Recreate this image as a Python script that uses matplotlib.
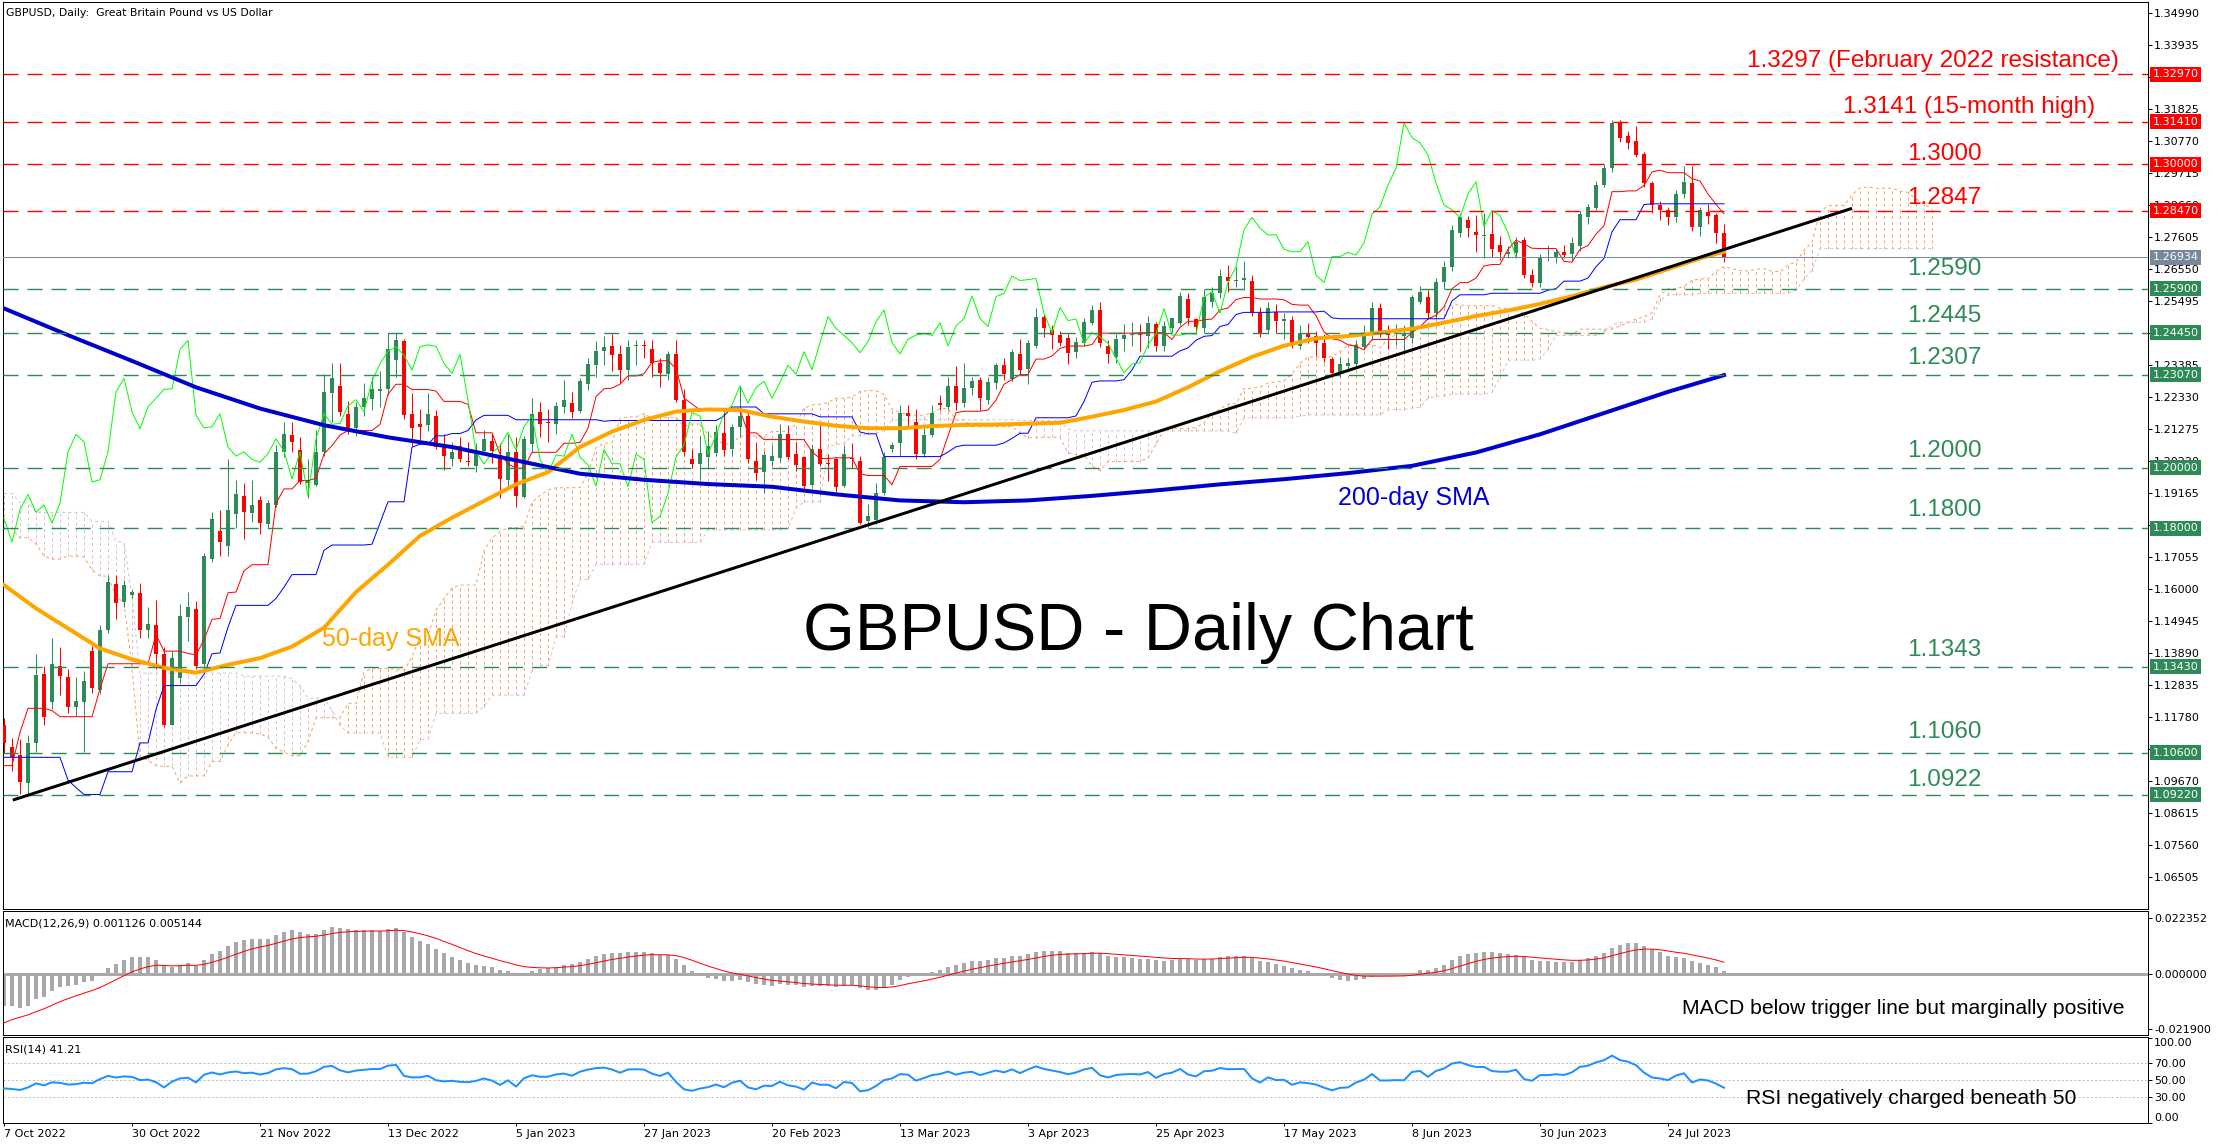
import numpy as np
import matplotlib
matplotlib.use("Agg")
import matplotlib.pyplot as plt
from matplotlib.transforms import blended_transform_factory

plt.rcParams['font.family'] = ['DejaVu Sans']
plt.rcParams['lines.scale_dashes'] = False

# ---------------- DATA (daily GBPUSD bars, 7 Oct 2022 .. 2 Aug 2023) ----------------
opens = [
1.1152, 1.1080, 1.1053, 1.0959, 1.1093, 1.1320, 1.1229, 1.1346, 1.1309, 1.1212,
1.1229, 1.1397, 1.1267, 1.1465, 1.1616, 1.1557, 1.1580, 1.1588, 1.1465, 1.1481,
1.1386, 1.1152, 1.1306, 1.1508, 1.1533, 1.1353, 1.1700, 1.1791, 1.1741, 1.1848,
1.1905, 1.1850, 1.1892, 1.1813, 1.1877, 1.2052, 1.2107, 1.2058, 1.1950, 1.1942,
1.2052, 1.2245, 1.2269, 1.2176, 1.2130, 1.2199, 1.2228, 1.2254, 1.2258, 1.2355,
1.2418, 1.2176, 1.2145, 1.2140, 1.2169, 1.2078, 1.2027, 1.2070, 1.2022, 1.2006,
1.2054, 1.2087, 1.2042, 1.1958, 1.2052, 1.1904, 1.2077, 1.2184, 1.2150, 1.2143,
1.2201, 1.2212, 1.2186, 1.2276, 1.2340, 1.2384, 1.2401, 1.2374, 1.2321, 1.2402,
1.2402, 1.2390, 1.2346, 1.2308, 1.2374, 1.2222, 1.2027, 1.2012, 1.2036, 1.2049,
1.2115, 1.2060, 1.2135, 1.2171, 1.2023, 1.1987, 1.2023, 1.2031, 1.2110, 1.2045,
1.2034, 1.1942, 1.2060, 1.2017, 1.2027, 1.1939, 1.2033, 1.2023, 1.1825, 1.1829,
1.1915, 1.2060, 1.2082, 1.2180, 1.2149, 1.2045, 1.2107, 1.2213, 1.2200, 1.2270,
1.2213, 1.2262, 1.2289, 1.2223, 1.2278, 1.2338, 1.2291, 1.2376, 1.2324, 1.2401,
1.2498, 1.2454, 1.2438, 1.2426, 1.2380, 1.2410, 1.2477, 1.2520, 1.2402, 1.2366,
1.2423, 1.2437, 1.2442, 1.2434, 1.2474, 1.2402, 1.2459, 1.2476, 1.2556, 1.2489,
1.2459, 1.2547, 1.2575, 1.2629, 1.2617, 1.2620, 1.2615, 1.2511, 1.2454, 1.2514,
1.2485, 1.2487, 1.2401, 1.2440, 1.2434, 1.2410, 1.2358, 1.2313, 1.2336, 1.2342,
1.2399, 1.2441, 1.2525, 1.2450, 1.2440, 1.2433, 1.2426, 1.2547, 1.2564, 1.2509,
1.2611, 1.2662, 1.2775, 1.2816, 1.2778, 1.2765, 1.2770, 1.2734, 1.2705, 1.2707,
1.2751, 1.2635, 1.2610, 1.2693, 1.2690, 1.2711, 1.2705, 1.2732, 1.2825, 1.2855,
1.2932, 1.2987, 1.3137, 1.3093, 1.3076, 1.3034, 1.2938, 1.2865, 1.2850, 1.2826,
1.2902, 1.2938, 1.2795, 1.2843, 1.2833, 1.2774]

highs = [
1.1175, 1.1110, 1.1105, 1.1120, 1.1386, 1.1347, 1.1440, 1.1410, 1.1337, 1.1310,
1.1330, 1.1412, 1.1480, 1.1645, 1.1645, 1.1630, 1.1600, 1.1620, 1.1540, 1.1565,
1.1410, 1.1395, 1.1550, 1.1590, 1.1560, 1.1720, 1.1855, 1.1860, 1.2030, 1.1960,
1.1950, 1.1960, 1.1905, 1.1895, 1.2075, 1.2150, 1.2150, 1.2100, 1.2030, 1.2125,
1.2310, 1.2345, 1.2345, 1.2220, 1.2215, 1.2280, 1.2300, 1.2320, 1.2445, 1.2445,
1.2425, 1.2245, 1.2195, 1.2245, 1.2190, 1.2110, 1.2085, 1.2100, 1.2085, 1.2080,
1.2125, 1.2110, 1.2080, 1.2110, 1.2100, 1.2105, 1.2230, 1.2215, 1.2195, 1.2215,
1.2290, 1.2250, 1.2295, 1.2360, 1.2418, 1.2435, 1.2440, 1.2405, 1.2420, 1.2420,
1.2420, 1.2420, 1.2360, 1.2385, 1.2420, 1.2260, 1.2060, 1.2105, 1.2120, 1.2140,
1.2190, 1.2145, 1.2270, 1.2190, 1.2080, 1.2055, 1.2075, 1.2145, 1.2140, 1.2085,
1.2040, 1.2075, 1.2145, 1.2045, 1.2035, 1.2075, 1.2080, 1.2040, 1.1880, 1.1950,
1.2050, 1.2085, 1.2205, 1.2205, 1.2195, 1.2130, 1.2205, 1.2240, 1.2300, 1.2335,
1.2345, 1.2300, 1.2300, 1.2300, 1.2345, 1.2360, 1.2390, 1.2424, 1.2420, 1.2526,
1.2505, 1.2470, 1.2450, 1.2440, 1.2430, 1.2495, 1.2536, 1.2545, 1.2420, 1.2440,
1.2475, 1.2480, 1.2475, 1.2500, 1.2480, 1.2485, 1.2495, 1.2580, 1.2575, 1.2495,
1.2590, 1.2595, 1.2655, 1.2668, 1.2660, 1.2682, 1.2635, 1.2530, 1.2545, 1.2540,
1.2510, 1.2500, 1.2470, 1.2477, 1.2450, 1.2440, 1.2365, 1.2365, 1.2360, 1.2420,
1.2470, 1.2545, 1.2543, 1.2470, 1.2475, 1.2470, 1.2570, 1.2600, 1.2585, 1.2625,
1.2680, 1.2800, 1.2840, 1.2830, 1.2833, 1.2839, 1.2850, 1.2765, 1.2730, 1.2760,
1.2760, 1.2655, 1.2705, 1.2735, 1.2720, 1.2735, 1.2760, 1.2845, 1.2870, 1.2945,
1.3000, 1.3145, 1.3145, 1.3110, 1.3126, 1.3040, 1.2945, 1.2880, 1.2860, 1.2915,
1.2995, 1.2995, 1.2860, 1.2870, 1.2840, 1.2803]

lows = [
1.1060, 1.1000, 1.0925, 1.0918, 1.1062, 1.1150, 1.1205, 1.1250, 1.1190, 1.1180,
1.1062, 1.1258, 1.1255, 1.1455, 1.1500, 1.1540, 1.1570, 1.1440, 1.1440, 1.1335,
1.1145, 1.1150, 1.1290, 1.1430, 1.1335, 1.1330, 1.1690, 1.1710, 1.1710, 1.1800,
1.1765, 1.1820, 1.1780, 1.1800, 1.1870, 1.2035, 1.2050, 1.1945, 1.1900, 1.1940,
1.2040, 1.2150, 1.2170, 1.2110, 1.2105, 1.2170, 1.2190, 1.2200, 1.2240, 1.2300,
1.2160, 1.2070, 1.2090, 1.2120, 1.2060, 1.1992, 1.2005, 1.2020, 1.2005, 1.1985,
1.2045, 1.2015, 1.1900, 1.1940, 1.1871, 1.1900, 1.2050, 1.2100, 1.2085, 1.2110,
1.2180, 1.2165, 1.2180, 1.2255, 1.2300, 1.2340, 1.2320, 1.2280, 1.2290, 1.2340,
1.2360, 1.2300, 1.2265, 1.2290, 1.2215, 1.2040, 1.2000, 1.1960, 1.2000, 1.2040,
1.2040, 1.2040, 1.2100, 1.2015, 1.1960, 1.1915, 1.2005, 1.2020, 1.2030, 1.1990,
1.1925, 1.1935, 1.2005, 1.1955, 1.1920, 1.1935, 1.2000, 1.1815, 1.1803, 1.1815,
1.1910, 1.2050, 1.2040, 1.2130, 1.2027, 1.2035, 1.2100, 1.2190, 1.2190, 1.2190,
1.2200, 1.2240, 1.2190, 1.2210, 1.2260, 1.2290, 1.2285, 1.2310, 1.2276, 1.2395,
1.2430, 1.2390, 1.2400, 1.2342, 1.2360, 1.2400, 1.2470, 1.2398, 1.2345, 1.2345,
1.2385, 1.2400, 1.2385, 1.2395, 1.2385, 1.2385, 1.2445, 1.2470, 1.2470, 1.2440,
1.2445, 1.2530, 1.2560, 1.2580, 1.2595, 1.2585, 1.2500, 1.2430, 1.2440, 1.2445,
1.2425, 1.2395, 1.2390, 1.2410, 1.2368, 1.2350, 1.2306, 1.2300, 1.2320, 1.2330,
1.2390, 1.2420, 1.2430, 1.2390, 1.2405, 1.2380, 1.2410, 1.2540, 1.2490, 1.2490,
1.2590, 1.2650, 1.2760, 1.2760, 1.2712, 1.2690, 1.2695, 1.2685, 1.2690, 1.2690,
1.2625, 1.2597, 1.2595, 1.2680, 1.2675, 1.2690, 1.2680, 1.2715, 1.2805, 1.2850,
1.2925, 1.2975, 1.3075, 1.3050, 1.3025, 1.2925, 1.2840, 1.2817, 1.2800, 1.2810,
1.2890, 1.2780, 1.2764, 1.2805, 1.2741, 1.2679]

closes = [
1.1091, 1.1045, 1.0962, 1.1093, 1.1316, 1.1177, 1.1353, 1.1313, 1.1212, 1.1231,
1.1298, 1.1273, 1.1465, 1.1624, 1.1555, 1.1612, 1.1590, 1.1465, 1.1485, 1.1386,
1.1152, 1.1372, 1.1512, 1.1541, 1.1346, 1.1708, 1.1832, 1.1755, 1.1862, 1.1912,
1.1853, 1.1877, 1.1817, 1.1883, 1.2052, 1.2110, 1.2085, 1.1953, 1.1960, 1.2052,
1.2250, 1.2294, 1.2184, 1.2128, 1.2201, 1.2229, 1.2258, 1.2260, 1.2390, 1.2420,
1.2173, 1.2131, 1.2135, 1.2178, 1.2068, 1.2038, 1.2052, 1.2027, 1.2018, 1.2046,
1.2095, 1.2054, 1.1963, 1.2052, 1.1906, 1.2095, 1.2178, 1.2143, 1.2146, 1.2204,
1.2224, 1.2185, 1.2285, 1.2343, 1.2384, 1.2398, 1.2371, 1.2321, 1.2399, 1.2405,
1.2400, 1.2344, 1.2311, 1.2374, 1.2222, 1.2052, 1.2012, 1.2049, 1.2072, 1.2116,
1.2058, 1.2135, 1.2171, 1.2027, 1.1981, 1.2042, 1.2038, 1.2110, 1.2035, 1.2009,
1.1939, 1.2060, 1.2013, 1.2013, 1.1937, 1.2045, 1.2027, 1.1819, 1.1839, 1.1915,
1.2034, 1.2075, 1.2181, 1.2170, 1.2045, 1.2107, 1.2179, 1.2207, 1.2270, 1.2213,
1.2264, 1.2285, 1.2229, 1.2281, 1.2338, 1.2308, 1.2382, 1.2323, 1.2412, 1.2498,
1.2459, 1.2436, 1.2412, 1.2379, 1.2415, 1.2481, 1.2520, 1.2412, 1.2375, 1.2423,
1.2437, 1.2442, 1.2436, 1.2478, 1.2402, 1.2467, 1.2492, 1.2566, 1.2492, 1.2465,
1.2564, 1.2575, 1.2632, 1.2617, 1.2620, 1.2624, 1.2509, 1.2445, 1.2528, 1.2485,
1.2490, 1.2410, 1.2445, 1.2432, 1.2410, 1.2361, 1.2313, 1.2342, 1.2346, 1.2405,
1.2441, 1.2525, 1.2437, 1.2437, 1.2442, 1.2440, 1.2562, 1.2580, 1.2509, 1.2612,
1.2662, 1.2785, 1.2825, 1.2790, 1.2767, 1.2768, 1.2720, 1.2712, 1.2712, 1.2745,
1.2635, 1.2610, 1.2696, 1.2696, 1.2710, 1.2701, 1.2741, 1.2836, 1.2860, 1.2932,
1.2987, 1.3137, 1.3088, 1.3071, 1.3031, 1.2938, 1.2866, 1.2850, 1.2825, 1.2902,
1.2943, 1.2795, 1.2848, 1.2831, 1.2774, 1.2693]

# highs / lows of the 78 sessions before 7 Oct 2022 (needed by the Ichimoku windows)
prior_high = [
1.2320, 1.2325, 1.2300, 1.2325,
1.2330, 1.2290, 1.2180, 1.2180, 1.2160,
1.2160, 1.2100, 1.1970, 1.2050, 1.2050,
1.1970, 1.1920, 1.1970, 1.1900, 1.1880,
1.2030, 1.2020, 1.2030, 1.2020, 1.2060,
1.2070, 1.2090, 1.2150, 1.2190, 1.2245,
1.2290, 1.2295, 1.2200, 1.2210, 1.2170,
1.2140, 1.2110, 1.2275, 1.2260, 1.2210,
1.2130, 1.2120, 1.2130, 1.2050, 1.1950,
1.1850, 1.1830, 1.1860, 1.1880, 1.1900,
1.1740, 1.1700, 1.1690, 1.1620, 1.1600,
1.1560, 1.1590, 1.1560, 1.1560, 1.1650,
1.1700, 1.1740, 1.1590, 1.1540, 1.1470,
1.1450, 1.1460, 1.1400, 1.1340, 1.1270,
1.0900, 1.0830, 1.0880, 1.1120, 1.1240,
1.1330, 1.1495, 1.1480, 1.1380]
prior_low = [
1.2220, 1.2160, 1.2210, 1.2200,
1.2230, 1.2160, 1.2110, 1.2080, 1.1975,
1.2080, 1.1900, 1.1875, 1.1920, 1.1950,
1.1860, 1.1810, 1.1850, 1.1760, 1.1810,
1.1860, 1.1940, 1.1950, 1.1890, 1.1940,
1.1990, 1.2000, 1.2030, 1.2060, 1.2070,
1.2160, 1.2135, 1.2110, 1.2000, 1.2000,
1.2050, 1.2040, 1.2070, 1.2180, 1.2110,
1.2020, 1.2030, 1.2010, 1.1940, 1.1810,
1.1720, 1.1720, 1.1780, 1.1800, 1.1720,
1.1650, 1.1620, 1.1590, 1.1500, 1.1500,
1.1440, 1.1460, 1.1410, 1.1450, 1.1510,
1.1580, 1.1480, 1.1480, 1.1450, 1.1350,
1.1360, 1.1380, 1.1220, 1.1210, 1.0840,
1.0350, 1.0680, 1.0540, 1.0760, 1.1030,
1.1050, 1.1270, 1.1300, 1.1140]

# moving averages (bar index, value)
sma50_bars = [0, 4, 8, 12, 16, 20, 24, 28, 32, 36, 40, 44, 48, 52, 56, 60, 64, 68, 72, 76,
              80, 84, 88, 92, 96, 100, 104, 108, 112, 116, 120, 124, 128, 132, 136, 140,
              144, 148, 152, 156, 160, 164, 168, 172, 176, 180, 184, 188, 192, 196, 200,
              204, 208, 212, 215]
sma50_vals = [1.1613, 1.1536, 1.1470, 1.1404, 1.1368, 1.1340, 1.1324, 1.1350, 1.1372, 1.1410,
              1.1472, 1.1590, 1.1680, 1.1775, 1.1835, 1.1890, 1.1945, 1.1985, 1.2068, 1.2119,
              1.2157, 1.2185, 1.2192, 1.2190, 1.2168, 1.2152, 1.2138, 1.2130, 1.2130, 1.2137,
              1.2141, 1.2142, 1.2145, 1.2148, 1.2168, 1.2190, 1.2218, 1.2265, 1.2318, 1.2365,
              1.2402, 1.2426, 1.2434, 1.2445, 1.2458, 1.2478, 1.2500, 1.2518, 1.2540, 1.2565,
              1.2595, 1.2620, 1.2655, 1.2690, 1.2712]
sma200_bars = [0, 8, 16, 24, 32, 40, 48, 56, 64, 72, 80, 88, 96, 104, 112, 120, 128, 136,
               144, 152, 160, 168, 176, 184, 192, 200, 208, 215]
sma200_vals = [1.2525, 1.2437, 1.2352, 1.2265, 1.2195, 1.2140, 1.2100, 1.2068, 1.2024, 1.1980,
               1.1960, 1.1946, 1.1937, 1.1912, 1.1892, 1.1886, 1.1892, 1.1907, 1.1925, 1.1945,
               1.1962, 1.1982, 1.2006, 1.2050, 1.2110, 1.2180, 1.2250, 1.2305]

trend_bars = [1.1, 231.0]
trend_prices = [1.0904, 1.2855]

red_levels = [1.3297, 1.3141, 1.3000, 1.2847]
green_levels = [1.2590, 1.2445, 1.2307, 1.2000, 1.1800, 1.1343, 1.1060, 1.0922]
last_price = 1.26934

level_texts = ['1.3297 (February 2022 resistance)', '1.3141 (15-month high)', '1.3000', '1.2847',
               '1.2590', '1.2445', '1.2307', '1.2000', '1.1800', '1.1343', '1.1060', '1.0922']

price_ticks = [1.34990, 1.33935, 1.32880, 1.31825, 1.30770, 1.29715, 1.28660, 1.27605,
               1.26550, 1.25495, 1.24440, 1.23385, 1.22330, 1.21275, 1.20220, 1.19165,
               1.18110, 1.17055, 1.16000, 1.14945, 1.13890, 1.12835, 1.11780, 1.10725,
               1.09670, 1.08615, 1.07560, 1.06505]
macd_ticks = [0.022352, 0.0, -0.021900]
rsi_ticks = [100, 70, 50, 30, 0]
date_bars = [0, 16, 32, 48, 64, 80, 96, 112, 128, 144, 160, 176, 192, 208]
date_labels = ['7 Oct 2022', '30 Oct 2022', '21 Nov 2022', '13 Dec 2022', '5 Jan 2023',
               '27 Jan 2023', '20 Feb 2023', '13 Mar 2023', '3 Apr 2023', '25 Apr 2023',
               '17 May 2023', '8 Jun 2023', '30 Jun 2023', '24 Jul 2023']

macd_seed = [1.1185, 1.1315, -0.0212]     # EMA12, EMA26, signal before first bar
rsi_seed = [0.0095, 0.0135, 1.1152]       # avg gain, avg loss, previous close

# ---------------- FIGURE ----------------
W, H = 2218, 1147
PX = 0.72  # one pixel in points at dpi 100
fig = plt.figure(figsize=(W / 100, H / 100), dpi=100)
fig.patch.set_facecolor('white')


def rect(x0, y0, x1, y1):
    return [x0 / W, 1 - y1 / H, (x1 - x0) / W, (y1 - y0) / H]


ax = fig.add_axes(rect(3, 2, 2148, 909))
axm = fig.add_axes(rect(3, 911, 2148, 1035))
axr = fig.add_axes(rect(3, 1037, 2148, 1123))

for a in (ax, axm, axr):
    a.set_xlim(-0.125, 268.0)
    a.set_facecolor('white')
    for s in a.spines.values():
        s.set_linewidth(PX)
        s.set_color('black')
    a.tick_params(axis='x', bottom=False, labelbottom=False)
    a.yaxis.tick_right()
    a.tick_params(axis='y', direction='out', length=4 * PX, width=PX, pad=1.5,
                  labelsize=8, colors='black')

o = np.array(opens); hi = np.array(highs); lo = np.array(lows); c = np.array(closes)
n = len(c)
idx = np.arange(n)

ax.set_ylim(1.05449, 1.35353)

# Ichimoku
fh = np.array(prior_high + highs)
fl = np.array(prior_low + lows)
P = len(prior_high)


def donchian_mid(period):
    out = np.full(fh.size, np.nan)
    for j in range(period - 1, fh.size):
        out[j] = (fh[j - period + 1:j + 1].max() + fl[j - period + 1:j + 1].min()) / 2
    return out


ten_f = donchian_mid(9)
kij_f = donchian_mid(26)
sb_f = donchian_mid(52)
tenkan = ten_f[P:P + n]
kijun = kij_f[P:P + n]
ks = np.arange(n + 26)
span_a = (ten_f[P + ks - 26] + kij_f[P + ks - 26]) / 2
span_b = sb_f[P + ks - 26]

dot = (0, (2.2, 2.2))
upk = span_a >= span_b
ax.vlines(ks[upk], span_b[upk], span_a[upk], colors='#F4A460', linestyles=dot,
          linewidth=PX, zorder=1)
ax.vlines(ks[~upk], span_a[~upk], span_b[~upk], colors='#D8BFD8', linestyles=dot,
          linewidth=PX, zorder=1)
ax.plot(ks, span_a, color='#F4A460', ls=dot, lw=PX, zorder=1.1)
ax.plot(ks, span_b, color='#D8BFD8', ls=dot, lw=PX, zorder=1.1)

# Candles
col = np.where(c >= o, '#2E8B57', '#FF0000')
ax.vlines(idx, lo, hi, colors=col, linewidth=PX, zorder=3)
ax.bar(idx, np.maximum(np.abs(c - o), 0.0003), bottom=np.minimum(o, c), width=0.58,
       color=col, linewidth=0, zorder=3.1)

# Indicator lines
ax.plot(idx, tenkan, color='#FF0000', lw=PX, zorder=4)
ax.plot(idx, kijun, color='#0000FF', lw=PX, zorder=4)
ax.plot(idx[:n - 26], c[26:], color='#00FF00', lw=PX, zorder=4)
ax.plot(sma50_bars, sma50_vals, color='#FFA500', lw=4 * PX, zorder=4.2)
ax.plot(sma200_bars, sma200_vals, color='#0000CD', lw=4 * PX, zorder=4.2)
ax.plot(trend_bars, trend_prices, color='black', lw=3 * PX, zorder=5, solid_capstyle='butt')

dash = (0, (10.8, 6.5))
for v in red_levels:
    ax.axhline(v, color='#FF0000', lw=1.4 * PX, ls=dash, zorder=4.5)
for v in green_levels:
    ax.axhline(v, color='#2E8B57', lw=1.4 * PX, ls=dash, zorder=4.5)
ax.axhline(last_price, color='#778899', lw=PX, zorder=4.5)

ax.set_yticks(price_ticks)
ax.set_yticklabels([f'{v:.5f}' for v in price_ticks])

tr = blended_transform_factory(ax.transAxes, ax.transData)
xoff = 1 + 4.5 / 2145
boxes = [(v, '#FF0000') for v in red_levels] + [(last_price, '#778899')] + \
        [(v, '#2E8B57') for v in green_levels]
for v, fc in boxes:
    ax.text(xoff, v, f'{v:.5f}', transform=tr, ha='left', va='center', fontsize=8,
            color='white', bbox=dict(boxstyle='square,pad=0.22', fc=fc, ec='none'),
            zorder=10, clip_on=False)


def ptext(x, y, s, **kw):
    fig.text(x / W, 1 - y / H, s, ha='left', va='baseline', **kw)


label_pos = [(1747, 66.5), (1843, 113), (1907, 159.5), (1907, 203.5), (1907, 275),
             (1907, 321.5), (1907, 364.5), (1907, 456.5), (1907, 516), (1907, 656),
             (1907, 737.5), (1907, 786)]
for i, (s, (x, y)) in enumerate(zip(level_texts, label_pos)):
    colr = '#FF0000' if i < 4 else '#2E8B57'
    ptext(x, y, s, fontsize=17.5, family='Liberation Sans', color=colr)

ptext(803, 650, 'GBPUSD - Daily Chart', fontsize=48, family='Liberation Sans', color='black')
ptext(322, 646, '50-day SMA', fontsize=18, family='Liberation Sans', color='#FFA500')
ptext(1338, 505, '200-day SMA', fontsize=18, family='Liberation Sans', color='#0000CD')
ptext(6, 15.5, 'GBPUSD, Daily:  Great Britain Pound vs US Dollar', fontsize=7.8, color='black')
ptext(5, 927, 'MACD(12,26,9) 0.001126 0.005144', fontsize=8, color='black')
ptext(5, 1052, 'RSI(14) 41.21', fontsize=8, color='black')
ptext(1682, 1014, 'MACD below trigger line but marginally positive', fontsize=15.2,
      family='Liberation Sans', color='black')
ptext(1746, 1104, 'RSI negatively charged beneath 50', fontsize=15.2,
      family='Liberation Sans', color='black')

# MACD panel
e12, e26, sg = macd_seed
mac, sig = [], []
for v in c:
    e12 += (v - e12) * 2 / 13
    e26 += (v - e26) * 2 / 27
    m = e12 - e26
    sg += (m - sg) * 0.2
    mac.append(m)
    sig.append(sg)
axm.set_ylim(-0.02435, 0.02515)
axm.axhline(0, color='#A9A9A9', lw=3 * PX, zorder=1)
axm.bar(idx, mac, width=0.42, color='#A9A9A9', linewidth=0, zorder=2)
axm.plot(idx, sig, color='#FF0000', lw=PX, zorder=3)
axm.set_yticks(macd_ticks)
axm.set_yticklabels([f'{v:.6f}' for v in macd_ticks])

# RSI panel
ag, al, pc = rsi_seed
rsi = []
for v in c:
    d = v - pc
    pc = v
    ag = (ag * 13 + max(d, 0)) / 14
    al = (al * 13 + max(-d, 0)) / 14
    rsi.append(100 - 100 / (1 + ag / al))
axr.set_ylim(-0.2, 100.9)
for lv in (70, 50, 30):
    axr.axhline(lv, color='#C0C0C0', lw=PX, ls=(0, (1.5, 1.5)), zorder=1)
axr.plot(idx, rsi, color='#1E90FF', lw=2 * PX, zorder=3)
axr.set_yticks(rsi_ticks)
axr.set_yticklabels([f'{v:.2f}' for v in rsi_ticks])
tl = axr.get_yticklabels()
tl[0].set_va('top')
tl[-1].set_va('bottom')

axr.set_xticks(date_bars)
axr.set_xticklabels(date_labels, ha='left', fontsize=8)
axr.tick_params(axis='x', bottom=True, labelbottom=True, direction='out',
                length=3 * PX, width=PX, pad=2)

fig.savefig('out.png', dpi=100)
